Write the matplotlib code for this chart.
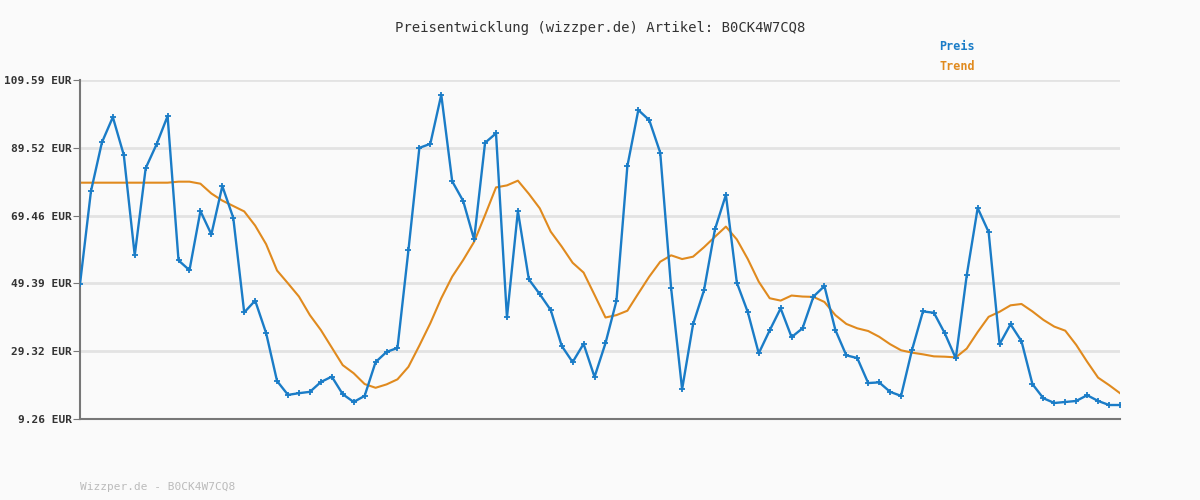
import matplotlib
matplotlib.use("Agg")
import matplotlib.pyplot as plt

preis = [49.2,76.65,91.1,98.6,87.4,57.7,83.5,90.6,98.9,56.2,53.3,70.8,63.9,78.2,68.8,40.8,44.3,34.7,20.5,16.4,
         16.9,17.3,20.2,21.8,16.6,14.3,16.1,26.1,29.1,30.3,59.2,89.5,90.7,105.2,79.6,73.8,62.4,91.0,93.8,39.3,
         70.8,50.6,46.2,41.5,30.9,26.1,31.5,21.7,31.7,44.2,84.1,100.7,97.7,88.1,47.9,18.05,37.3,47.35,65.4,75.6,
         49.6,40.9,28.7,35.5,42.0,33.5,36.1,45.5,48.6,35.6,28.1,27.3,19.9,20.1,17.3,16.1,29.7,41.1,40.7,34.6,
         27.2,51.8,71.7,64.6,31.4,37.3,32.3,19.6,15.4,14.0,14.3,14.6,16.3,14.6,13.4,13.4]
trend = [79.2]*9 + [79.5,79.5,78.9,76.0,73.9,72.3,70.7,66.5,61.0,53.2,49.4,45.5,40.0,35.6,30.4,25.2,22.8,19.6,18.5,19.5,21.0,
         24.7,31.0,37.6,45.0,51.4,56.3,61.7,69.6,77.8,78.4,79.8,75.9,71.6,64.7,60.3,55.5,52.6,46.0,39.3,40.0,
         41.3,46.4,51.4,55.8,57.7,56.6,57.3,60.1,63.2,66.2,62.4,56.6,49.9,45.0,44.3,45.8,45.5,45.4,43.9,40.0,
         37.4,36.1,35.3,33.6,31.4,29.6,28.9,28.4,27.8,27.7,27.5,30.1,35.0,39.5,41.0,42.9,43.3,41.1,38.6,36.6,
         35.4,31.2,26.2,21.5,19.3,16.9]
yticks = [9.26, 29.32, 49.39, 69.46, 89.52, 109.59]
ytick_labels = ["%.2f EUR" % v for v in yticks]

bg = "#fafafa"
fig = plt.figure(figsize=(12, 5), dpi=100, facecolor=bg)
ax = fig.add_axes([80/1200, 81/500, 1040/1200, 339/500], facecolor=bg)
x = list(range(len(preis)))
ax.plot(x, trend, color="#e08a1e", lw=1.5, zorder=2)
ax.plot(x, preis, color="#1a7cc7", lw=1.7, marker="+", ms=4, mew=1.3, zorder=3)
ax.set_xlim(0, len(preis)-1)
ax.set_ylim(9.26, 109.59)
ax.set_yticks(yticks)
ax.set_yticklabels(ytick_labels, family="DejaVu Sans Mono", fontsize=8, weight="bold", color="#333333")
ax.set_xticks([])
ax.grid(axis="y", color="#e3e3e3", lw=2)
ax.set_axisbelow(True)
for s in ["top", "right"]:
    ax.spines[s].set_visible(False)
for s in ["left", "bottom"]:
    ax.spines[s].set_color("#777777")
    ax.spines[s].set_linewidth(1.5)
ax.tick_params(axis="y", length=5, color="#777777", pad=1)
fig.text(0.5, 1-28/500, "Preisentwicklung (wizzper.de) Artikel: B0CK4W7CQ8", ha="center", va="center",
         family="DejaVu Sans Mono", fontsize=10, color="#333333")
fig.text(939/1200, 1-47/500, "Preis", ha="left", va="center", family="DejaVu Sans Mono", fontsize=8.5,
         color="#1a7cc7", weight="bold")
fig.text(939/1200, 1-67/500, "Trend", ha="left", va="center", family="DejaVu Sans Mono", fontsize=8.5,
         color="#e08a1e", weight="bold")
fig.text(80/1200, 1-487/500, "Wizzper.de - B0CK4W7CQ8", ha="left", va="center", family="DejaVu Sans Mono",
         fontsize=8, color="#bbbbbb")
fig.savefig("out.png", facecolor=bg)
